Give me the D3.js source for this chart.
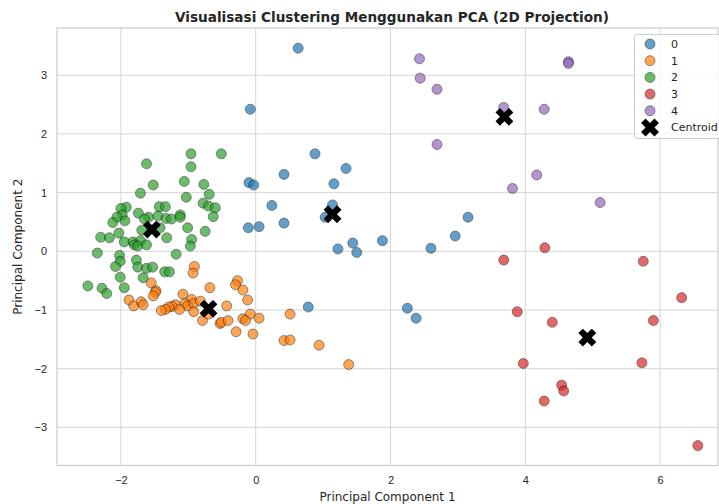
<!DOCTYPE html>
<html lang="en">
<head>
<meta charset="utf-8">
<script src="https://cdn.jsdelivr.net/npm/d3@7/dist/d3.min.js"></script>
<style>
  body { margin: 0; background: #fff; }
  svg { font-family: "DejaVu Sans", sans-serif; }
</style>
</head>
<body>
<script>
// cluster points [PC1, PC2]
var cluster0 = [[0.63,3.46],[-0.08,2.42],[0.88,1.66],[1.34,1.41],[0.42,1.31],[-0.10,1.17],[-0.03,1.13],
  [1.16,1.15],[0.24,0.78],[1.14,0.79],[1.03,0.58],[0.42,0.48],[-0.11,0.40],[0.05,0.42],[3.15,0.58],
  [1.22,0.04],[1.44,0.14],[1.50,-0.02],[1.88,0.18],[2.96,0.26],[2.60,0.05],[2.25,-0.97],[2.38,-1.14],[0.78,-0.95]];

var cluster1 = [[-0.91,-0.26],[-0.93,-0.37],[-0.27,-0.50],[-0.30,-0.57],[-0.19,-0.66],[-0.68,-0.62],
  [-1.55,-0.54],[-1.48,-0.67],[-1.49,-0.70],[-1.52,-0.76],[-1.08,-0.73],[-0.12,-0.83],[-1.88,-0.83],
  [-1.81,-0.93],[-1.70,-0.86],[-1.67,-0.91],[-0.95,-0.82],[-1.05,-0.89],[-1.01,-0.93],[-0.92,-0.89],
  [-0.82,-0.85],[-1.19,-0.91],[-1.24,-0.94],[-1.29,-0.95],[-1.34,-0.99],[-1.40,-1.01],[-1.13,-0.99],
  [-0.92,-1.03],[-0.43,-0.93],[-0.79,-1.18],[-0.70,-1.07],[-0.08,-1.07],[-0.19,-1.15],[-0.15,-1.18],
  [0.05,-1.14],[-0.53,-1.23],[-0.51,-1.21],[-0.41,-1.18],[-0.29,-1.37],[-0.04,-1.41],[0.51,-1.07],
  [0.42,-1.52],[0.51,-1.51],[0.94,-1.60],[1.38,-1.93]];

var cluster2 = [[-0.96,1.66],[-0.51,1.66],[-1.62,1.49],[-0.96,1.44],[-1.52,1.13],[-1.06,1.19],[-0.77,1.14],
  [-1.71,0.99],[-0.69,0.97],[-1.03,0.92],[-0.78,0.82],[-0.70,0.77],[-0.60,0.74],[-0.63,0.59],[-1.43,0.76],
  [-1.34,0.76],[-1.92,0.75],[-2.00,0.73],[-1.98,0.62],[-2.06,0.58],[-1.94,0.52],[-2.12,0.49],[-1.74,0.65],
  [-1.59,0.58],[-1.65,0.55],[-1.45,0.60],[-1.33,0.56],[-1.25,0.55],[-1.12,0.62],[-1.12,0.58],[-1.42,0.40],
  [-1.69,0.36],[-1.01,0.40],[-0.75,0.34],[-2.30,0.24],[-2.17,0.23],[-2.03,0.31],[-1.32,0.23],[-0.95,0.20],
  [-0.97,0.09],[-1.95,0.16],[-1.82,0.16],[-1.71,0.18],[-1.80,0.11],[-1.75,0.09],[-1.62,0.11],[-2.35,-0.03],
  [-2.02,-0.07],[-1.18,-0.05],[-2.01,-0.17],[-2.08,-0.26],[-1.77,-0.15],[-1.75,-0.27],[-1.62,-0.29],
  [-1.53,-0.27],[-1.35,-0.35],[-1.28,-0.35],[-2.01,-0.44],[-1.67,-0.45],[-2.49,-0.59],[-2.28,-0.63],
  [-2.21,-0.72],[-1.95,-0.62]];

var cluster3 = [[4.29,0.06],[3.68,-0.15],[5.75,-0.17],[6.32,-0.79],[3.88,-1.03],[4.40,-1.21],[5.90,-1.18],
  [3.97,-1.91],[5.73,-1.90],[4.54,-2.28],[4.57,-2.38],[4.28,-2.55],[6.56,-3.31]];

var cluster4 = [[2.43,3.28],[2.44,2.95],[2.69,2.76],[2.69,1.82],[4.64,3.23],[4.64,3.20],[3.68,2.45],
  [4.28,2.42],[4.17,1.30],[3.81,1.07],[5.11,0.83]];

var centroids = [[1.14,0.63],[-0.70,-0.98],[-1.54,0.37],[4.92,-1.47],[3.69,2.29]];

var clusterNames = ["0", "1", "2", "3", "4"];
var clusterColors = ["#1f77b4", "#ff7f0e", "#2ca02c", "#d62728", "#9467bd"];
var xTicks = [-2, 0, 2, 4, 6];
var yTicks = [-3, -2, -1, 0, 1, 2, 3];

var clusters = [cluster0, cluster1, cluster2, cluster3, cluster4];

var w = 719, h = 504;
var margin = {top: 28, right: 1, bottom: 38.5, left: 57};
var textColor = "#262626";
var gridColor = "#d5d5d5";

var svg = d3.select("body").append("svg")
  .attr("width", w)
  .attr("height", h);

var xScale = d3.scaleLinear()
  .domain([-2.948, 6.859])
  .range([margin.left, w - margin.right]);

var yScale = d3.scaleLinear()
  .domain([-3.649, 3.804])
  .range([h - margin.bottom, margin.top]);

var fmt = function(d) { return d < 0 ? "\u2212" + Math.abs(d) : String(d); };

// grid lines
svg.append("g").selectAll("line")
  .data(xTicks).enter().append("line")
  .attr("x1", function(d) { return xScale(d); })
  .attr("x2", function(d) { return xScale(d); })
  .attr("y1", margin.top)
  .attr("y2", h - margin.bottom)
  .attr("stroke", gridColor).attr("stroke-width", 1);

svg.append("g").selectAll("line")
  .data(yTicks).enter().append("line")
  .attr("x1", margin.left)
  .attr("x2", w - margin.right)
  .attr("y1", function(d) { return yScale(d); })
  .attr("y2", function(d) { return yScale(d); })
  .attr("stroke", gridColor).attr("stroke-width", 1);

// axes (tick labels only, seaborn whitegrid style)
var xAxis = svg.append("g")
  .attr("transform", "translate(0," + (h - margin.bottom) + ")")
  .call(d3.axisBottom(xScale).tickValues(xTicks).tickFormat(fmt).tickSize(0).tickPadding(11));
var yAxis = svg.append("g")
  .attr("transform", "translate(" + margin.left + ",0)")
  .call(d3.axisLeft(yScale).tickValues(yTicks).tickFormat(fmt).tickSize(0).tickPadding(10));

[xAxis, yAxis].forEach(function(a) {
  a.select(".domain").remove();
  a.selectAll("text").attr("fill", textColor).style("font-size", "11px");
});

// frame
svg.append("rect")
  .attr("x", margin.left)
  .attr("y", margin.top)
  .attr("width", w - margin.left - margin.right)
  .attr("height", h - margin.top - margin.bottom)
  .attr("fill", "none")
  .attr("stroke", "#cccccc")
  .attr("stroke-width", 1.25);

// points
clusters.forEach(function(pts, i) {
  svg.append("g").selectAll("circle")
    .data(pts).enter().append("circle")
    .attr("cx", function(d) { return xScale(d[0]); })
    .attr("cy", function(d) { return yScale(d[1]); })
    .attr("r", 5)
    .attr("fill", clusterColors[i])
    .attr("stroke", "#000")
    .attr("stroke-width", 0.6)
    .attr("opacity", 0.7);
});

// centroids as filled X
var xMark = d3.symbol().type(d3.symbolCross).size(200);
svg.append("g").selectAll("path")
  .data(centroids).enter().append("path")
  .attr("d", xMark)
  .attr("transform", function(d) {
    return "translate(" + xScale(d[0]) + "," + yScale(d[1]) + ") rotate(45)";
  })
  .attr("fill", "#000");

// title and labels
svg.append("text")
  .attr("x", 392)
  .attr("y", 22)
  .attr("text-anchor", "middle")
  .attr("fill", textColor)
  .style("font-size", "13.6px")
  .style("font-weight", "bold")
  .text("Visualisasi Clustering Menggunakan PCA (2D Projection)");

svg.append("text")
  .attr("x", (margin.left + w - margin.right) / 2)
  .attr("y", 501)
  .attr("text-anchor", "middle")
  .attr("fill", textColor)
  .style("font-size", "12px")
  .text("Principal Component 1");

svg.append("text")
  .attr("transform", "translate(22," + ((margin.top + h - margin.bottom) / 2) + ") rotate(-90)")
  .attr("text-anchor", "middle")
  .attr("fill", textColor)
  .style("font-size", "12px")
  .text("Principal Component 2");

// legend
var legend = svg.append("g").attr("transform", "translate(634.5,34.5)");
legend.append("rect")
  .attr("width", 95).attr("height", 104)
  .attr("rx", 3)
  .attr("fill", "#fff").attr("fill-opacity", 0.8)
  .attr("stroke", "#cccccc");

var items = clusterNames.concat(["Centroid"]);
var rows = legend.selectAll(".row")
  .data(items).enter().append("g")
  .attr("class", "row")
  .attr("transform", function(d, i) { return "translate(15.5," + (9.5 + i * 16.7) + ")"; });

rows.filter(function(d, i) { return i < 5; })
  .append("circle")
  .attr("r", 5)
  .attr("fill", function(d, i) { return clusterColors[i]; })
  .attr("stroke", "#000").attr("stroke-width", 0.6)
  .attr("opacity", 0.7);

rows.filter(function(d, i) { return i === 5; })
  .append("path")
  .attr("d", xMark)
  .attr("transform", "rotate(45)")
  .attr("fill", "#000");

rows.append("text")
  .attr("x", 21)
  .attr("dy", "0.35em")
  .attr("fill", textColor)
  .style("font-size", "11px")
  .text(function(d) { return d; });
</script>
</body>
</html>
